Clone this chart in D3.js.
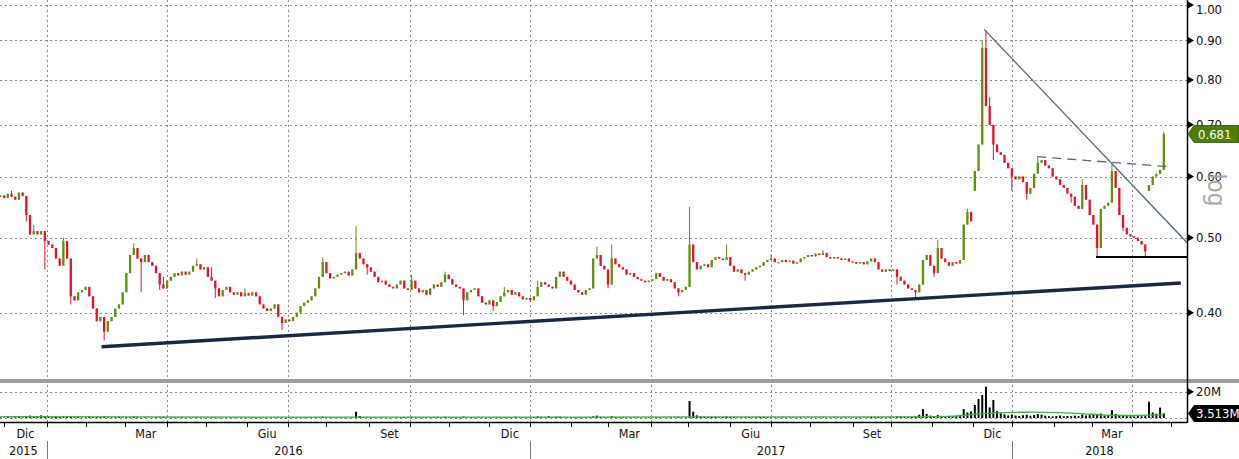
<!DOCTYPE html>
<html><head><meta charset="utf-8">
<script src="https://cdn.jsdelivr.net/npm/d3@7"></script>
<style>
body{margin:0;background:#fff}
svg{display:block}
text{font-family:"DejaVu Sans Condensed","DejaVu Sans","Liberation Sans",sans-serif}
</style>
</head><body>
<svg id="c" width="1239" height="459"></svg>
<script>
// ---------------- DATA ----------------
const calendarOrigin = "2015-11-23";   // weekday index 0
const firstCandleDate = "2015-11-27";
const candleStep = 2;                  // weekdays per candle
const firstOpen = 0.565;
const close = [
0.567,0.563,0.570,0.565,0.560,0.572,0.566,0.535,0.505,0.510,
0.505,0.510,0.495,0.490,0.485,0.470,0.460,0.495,0.470,0.420,
0.415,0.425,0.428,0.432,0.420,0.405,0.390,0.395,0.378,0.390,
0.395,0.405,0.410,0.425,0.450,0.475,0.485,0.470,0.465,0.475,
0.465,0.460,0.450,0.435,0.430,0.440,0.445,0.450,0.447,0.452,
0.448,0.452,0.460,0.462,0.455,0.458,0.445,0.440,0.430,0.420,
0.428,0.432,0.425,0.422,0.425,0.420,0.424,0.421,0.425,0.420,
0.410,0.405,0.402,0.405,0.410,0.395,0.388,0.392,0.390,0.395,
0.400,0.408,0.412,0.415,0.420,0.430,0.445,0.465,0.450,0.443,
0.445,0.448,0.450,0.452,0.447,0.455,0.478,0.470,0.462,0.458,
0.452,0.445,0.438,0.440,0.435,0.432,0.430,0.435,0.440,0.430,
0.428,0.440,0.430,0.425,0.428,0.422,0.430,0.435,0.432,0.438,
0.448,0.442,0.435,0.432,0.430,0.415,0.425,0.428,0.430,0.420,
0.412,0.410,0.415,0.408,0.413,0.420,0.425,0.428,0.422,0.425,
0.420,0.416,0.418,0.415,0.420,0.432,0.438,0.435,0.432,0.430,
0.445,0.452,0.445,0.440,0.435,0.428,0.425,0.422,0.428,0.430,
0.470,0.475,0.460,0.455,0.435,0.470,0.462,0.458,0.455,0.448,
0.450,0.445,0.442,0.440,0.438,0.440,0.442,0.450,0.445,0.440,
0.442,0.438,0.430,0.425,0.428,0.432,0.490,0.465,0.455,0.460,
0.462,0.458,0.468,0.472,0.470,0.468,0.472,0.460,0.452,0.455,
0.450,0.448,0.452,0.455,0.458,0.460,0.465,0.468,0.470,0.465,
0.465,0.468,0.465,0.467,0.463,0.465,0.470,0.472,0.475,0.473,
0.477,0.475,0.478,0.472,0.470,0.472,0.470,0.468,0.470,0.466,
0.465,0.463,0.465,0.462,0.466,0.470,0.465,0.455,0.452,0.455,
0.453,0.455,0.445,0.440,0.435,0.430,0.428,0.425,0.435,0.468,
0.475,0.460,0.450,0.485,0.470,0.465,0.460,0.465,0.463,0.468,
0.520,0.540,0.525,0.610,0.660,0.880,0.740,0.700,0.660,0.645,
0.640,0.625,0.615,0.600,0.595,0.600,0.590,0.570,0.580,0.605,
0.625,0.630,0.620,0.615,0.600,0.595,0.585,0.580,0.570,0.565,
0.550,0.545,0.585,0.560,0.535,0.520,0.485,0.545,0.550,0.555,
0.610,0.580,0.535,0.515,0.505,0.502,0.500,0.495,0.490,0.480,
0.585,0.600,0.605,0.612,0.681
];
// explicit opens where the price gapped: [candle, open]
const gapOpens = [[263,0.575],[310,0.575]];
// [candle, high] and [candle, low] for wicks beyond the body
const highs = [[3,0.575],[9,0.52],[17,0.5],[36,0.492],[44,0.445],[53,0.47],[57,0.458],[66,0.43],[87,0.472],[96,0.518],
  [111,0.448],[120,0.452],[136,0.432],[145,0.44],[161,0.487],[165,0.49],[186,0.548],[196,0.49],[208,0.476],[222,0.482],
  [253,0.497],[261,0.545],[265,0.90],[266,0.928],[267,0.76],[280,0.638],[292,0.595],[300,0.624],[314,0.685]];
const lows = [[7,0.525],[12,0.455],[19,0.41],[28,0.368],[38,0.425],[43,0.428],[58,0.418],[76,0.38],[99,0.448],[125,0.397],
  [133,0.402],[164,0.43],[183,0.42],[201,0.44],[242,0.435],[247,0.419],[252,0.445],[268,0.63],[273,0.575],[277,0.56],
  [289,0.555],[296,0.472],[303,0.51],[309,0.472]];
const volume = [
0.6,0.4,0.9,0.3,0.5,1.2,0.4,1.5,1.8,0.9, 1.2,2.0,1.4,0.8,0.5,1.6,0.7,0.9,1.1,1.3,
0.6,0.9,0.4,0.5,1.4,0.6,0.8,0.7,1.3,0.5, 0.4,0.6,0.9,0.5,0.7,0.4,1.0,0.6,0.3,0.5,
0.4,0.3,0.6,0.5,0.8,0.4,0.3,0.5,0.4,0.6, 0.3,0.4,0.5,0.7,0.4,0.3,0.5,0.6,0.4,0.3,
0.3,0.5,0.4,0.3,0.6,0.4,0.3,0.4,0.5,0.3, 0.4,0.6,0.3,0.5,0.4,0.7,0.5,0.3,0.4,0.6,
0.4,0.5,0.3,0.6,0.4,0.8,0.7,1.0,0.5,0.4, 0.3,0.4,0.5,0.3,0.4,0.6,4.8,1.6,0.8,0.5,
0.4,0.5,0.3,0.4,0.6,0.3,0.5,0.4,0.3,0.5, 0.6,0.9,0.4,0.5,0.3,0.6,0.4,0.5,0.8,0.4,
0.9,0.5,0.4,0.6,0.3,1.1,0.5,0.4,0.3,0.6, 0.4,0.3,0.5,0.4,0.6,0.5,0.7,0.4,0.3,1.0,
0.5,0.6,0.3,0.4,0.8,1.2,0.9,0.5,1.4,0.6, 0.9,1.1,0.5,0.4,0.6,0.3,0.5,0.4,0.6,0.5,
1.3,1.8,0.9,0.7,0.6,1.4,0.8,0.5,0.7,0.4, 0.5,0.4,0.6,0.3,0.4,0.5,0.3,0.6,0.4,0.5,
0.4,0.6,0.5,0.7,0.4,0.6,12.9,4.8,2.0,1.2, 0.9,0.7,1.0,0.8,0.6,0.7,1.1,0.8,0.6,0.5,
0.6,0.5,0.7,0.4,0.5,0.8,0.6,0.5,0.4,0.5, 0.4,0.5,0.3,0.4,0.5,0.3,0.6,0.4,0.5,0.4,
0.3,0.4,0.5,0.3,0.4,0.6,0.4,0.3,0.5,0.4, 0.4,0.3,0.5,0.4,0.6,1.0,0.7,0.8,0.6,0.5,
0.6,0.5,1.2,1.5,0.9,0.7,0.8,1.0,2.5,6.8, 3.1,1.8,1.5,2.2,1.6,1.3,1.4,1.2,1.6,2.4,
6.8,4.2,5.1,9.9,14.4,17.5,23.8,8.0,13.7,5.2, 3.6,2.8,2.0,2.6,1.9,1.5,2.1,2.4,1.7,2.2,
2.9,2.5,1.8,1.4,1.2,1.5,1.9,1.3,1.6,1.4, 1.8,1.5,2.6,1.9,2.2,2.5,3.0,3.4,2.0,2.4,
6.0,3.1,2.4,1.9,1.6,1.4,1.2,1.5,1.3,1.8, 12.4,4.2,3.3,7.9,3.513
];
// volume moving average, [candle, value in M]
const volumeMA = [[0,1.0],[40,0.9],[80,0.6],[120,0.6],[160,0.7],[185,0.9],[210,0.9],[245,0.9],[255,1.0],
  [260,1.8],[264,3.2],[268,4.0],[276,4.5],[286,4.3],[293,3.2],[298,2.0],[304,1.8],[310,2.2],[314,2.5]];
const priceTicks = [0.40,0.50,0.60,0.70,0.80,0.90,1.00];
const volumeTicks = [20];
const monthNames = ["Gen","Feb","Mar","Apr","Mag","Giu","Lug","Ago","Set","Ott","Nov","Dic"];
const labelledMonths = [11,2,5,8];
const axisStart = "2015-12-01", axisEnd = "2018-05-01";
// drawn lines: [candle, price] pairs
const supportLine = [[27.3,0.3615],[318.6,0.437]];
const downTrend = [[265.5,0.930],[320.3,0.4927]];
const resistance = [[279.9,0.6365],[315.5,0.6178]];
const floorLine = [[295.7,0.472],[320.3,0.472]];

// ---------------- LAYOUT ----------------
const svg = d3.select("#c");
const W = 1239, axisX = 1187;
const parse = d3.utcParse("%Y-%m-%d");
const origin = parse(calendarOrigin);
const wIdx = d => d3.utcDay.range(origin, d).filter(t => t.getUTCDay() % 6 !== 0).length;
const x = d3.scaleLinear().domain([wIdx(parse("2016-01-01")), wIdx(parse("2018-04-02"))]).range([46.7, 1132.3]);
const w0 = wIdx(parse(firstCandleDate));
const xk = k => x(w0 + candleStep * k);
const y = d3.scaleLog().domain([1.0, 0.4]).range([5, 312.7]);
const vy = d3.scaleLinear().domain([0, 20]).range([418, 391.7]);

const GREEN = "#5f8f0f", RED = "#e8112d";
const defs = svg.append("defs");
defs.append("clipPath").attr("id","pc").append("rect").attr("x",0).attr("y",0).attr("width",axisX).attr("height",379);
defs.append("clipPath").attr("id","vc").append("rect").attr("x",0).attr("y",383).attr("width",axisX).attr("height",39);

// horizontal gridlines
svg.append("g").selectAll("line").data(priceTicks).join("line")
  .attr("x1",0).attr("x2",axisX).attr("y1",d=>Math.round(y(d))+0.5).attr("y2",d=>Math.round(y(d))+0.5)
  .attr("stroke","#8a8a8a").attr("stroke-dasharray","2,3");
svg.append("g").selectAll("line").data([0].concat(volumeTicks)).join("line")
  .attr("x1",0).attr("x2",axisX).attr("y1",d=>Math.round(vy(d))+0.5).attr("y2",d=>Math.round(vy(d))+0.5)
  .attr("stroke","#8a8a8a").attr("stroke-dasharray","2,3");

// months
const months = d3.utcMonth.range(parse(axisStart), d3.utcMonth.offset(parse(axisEnd),1));
const mx = m => x(wIdx(m));
const quarters = months.filter(m => m.getUTCMonth() % 3 === 0);
svg.append("g").selectAll("line").data(quarters).join("line")
  .attr("x1",d=>Math.round(mx(d))+0.5).attr("x2",d=>Math.round(mx(d))+0.5).attr("y1",0).attr("y2",430)
  .attr("stroke","#8a8a8a").attr("stroke-dasharray","2,3");

// volume
const vg = svg.append("g").attr("clip-path","url(#vc)");
vg.selectAll("rect").data(volume).join("rect")
  .attr("x",(d,k)=>xk(k)-1).attr("width",2)
  .attr("y",d=>vy(d)).attr("height",d=>Math.max(0.6, vy(0)-vy(d))).attr("fill","#000");
vg.append("path").datum(volumeMA)
  .attr("d", d3.line().x(d=>xk(d[0])).y(d=>vy(d[1])).curve(d3.curveBasis))
  .attr("fill","none").attr("stroke","#3cb43c").attr("stroke-width",1.3);

// candles
const hiMap = new Map(highs), loMap = new Map(lows), gapMap = new Map(gapOpens);
const candles = close.map((c,k)=>{
  const o = gapMap.has(k) ? gapMap.get(k) : (k ? close[k-1] : firstOpen);
  return {k, o, c, h: Math.max(o,c,hiMap.get(k)||0), l: Math.min(o,c,loMap.get(k)||9)};
});
const cg = svg.append("g").attr("clip-path","url(#pc)");
const cs = cg.selectAll("g").data(candles).join("g").attr("fill",d=>d.c>=d.o?GREEN:RED).attr("stroke",d=>d.c>=d.o?GREEN:RED);
cs.append("line").attr("x1",d=>xk(d.k)).attr("x2",d=>xk(d.k)).attr("y1",d=>y(d.h)).attr("y2",d=>y(d.l)).attr("stroke-width",1);
cs.append("rect").attr("stroke","none").attr("x",d=>xk(d.k)-1.15).attr("width",2.3)
  .attr("y",d=>y(Math.max(d.o,d.c))).attr("height",d=>Math.max(1.2, y(Math.min(d.o,d.c))-y(Math.max(d.o,d.c))));

// drawn lines
const ln = d3.line().x(d=>xk(d[0])).y(d=>y(d[1]));
cg.append("path").datum(supportLine).attr("d",ln).attr("stroke","#1b2940").attr("stroke-width",3.4).attr("fill","none");
cg.append("path").datum(downTrend).attr("d",ln).attr("stroke","#4f6b88").attr("stroke-width",1.3).attr("fill","none");
cg.append("path").datum(resistance).attr("d",ln).attr("stroke","#4f6b88").attr("stroke-width",1.3).attr("stroke-dasharray","9,6").attr("fill","none");
cg.append("path").datum(floorLine).attr("d",ln).attr("stroke","#000").attr("stroke-width",2).attr("fill","none");

// separator & axes
svg.append("line").attr("x1",0).attr("x2",W).attr("y1",381).attr("y2",381).attr("stroke","#9c9c9c").attr("stroke-width",4);
svg.append("line").attr("x1",axisX+0.5).attr("x2",axisX+0.5).attr("y1",0).attr("y2",423).attr("stroke","#000").attr("stroke-width",1.5);
svg.append("line").attr("x1",0).attr("x2",axisX).attr("y1",422.5).attr("y2",422.5).attr("stroke","#000").attr("stroke-width",1.5);

// price axis
const pa = svg.append("g");
pa.selectAll("path").data(priceTicks).join("path")
  .attr("d",d=>{const t=y(d);return `M${axisX+1},${t-3.5}L${axisX+7},${t}L${axisX+1},${t+3.5}Z`;}).attr("fill","#000");
pa.selectAll("text").data(priceTicks).join("text")
  .attr("x",axisX+9).attr("y",d=>Math.max(14, y(d)+4.5)).attr("font-size",13).attr("fill","#111").text(d=>d.toFixed(2));
svg.append("text").attr("transform",`translate(1208,190) rotate(90)`).attr("text-anchor","middle")
  .attr("font-size",24).attr("fill","#a8a8a8").text("log");

// last price tag
const lastC = close[close.length-1], ly = y(lastC);
svg.append("path").attr("d",`M${axisX+1},${ly}L${axisX+7},${ly-8.5}L${W},${ly-8.5}L${W},${ly+8.5}L${axisX+7},${ly+8.5}Z`)
  .attr("fill","#4e7d05").attr("stroke","#2f4f00").attr("stroke-width",0.8);
svg.append("text").attr("x",axisX+11).attr("y",ly+5).attr("font-size",13).attr("fill","#fff").text(lastC.toFixed(3));

// volume axis
svg.selectAll(".vt").data(volumeTicks).join("path").attr("class","vt")
  .attr("d",d=>{const t=vy(d);return `M${axisX+1},${t-3.5}L${axisX+7},${t}L${axisX+1},${t+3.5}Z`;}).attr("fill","#000");
svg.selectAll(".vl").data(volumeTicks).join("text").attr("class","vl")
  .attr("x",axisX+9).attr("y",d=>vy(d)+4.5).attr("font-size",13).attr("fill","#111").text(d=>d+"M");
const lastV = volume[volume.length-1], lvy = vy(lastV);
svg.append("path").attr("d",`M${axisX+1},${lvy}L${axisX+7},${lvy-8.5}L${W},${lvy-8.5}L${W},${lvy+8.5}L${axisX+7},${lvy+8.5}Z`).attr("fill","#000");
svg.append("text").attr("x",axisX+9).attr("y",lvy+5).attr("font-size",13).attr("fill","#fff").text(lastV.toFixed(3)+"M");

// time axis
const ta = svg.append("g");
ta.selectAll("line").data(months).join("line")
  .attr("x1",d=>Math.round(mx(d))+0.5).attr("x2",d=>Math.round(mx(d))+0.5).attr("y1",422).attr("y2",427)
  .attr("stroke","#000");
const lm = months.filter(m => labelledMonths.includes(m.getUTCMonth()) && mx(m) < axisX);
ta.selectAll("text.m").data(lm).join("text").attr("class","m")
  .attr("x",d=>(mx(d)+Math.min(axisX,mx(d3.utcMonth.offset(d,1))))/2).attr("y",438)
  .attr("text-anchor","middle").attr("font-size",12.5).attr("fill","#111").text(d=>monthNames[d.getUTCMonth()]);
const yearStarts = d3.utcYear.range(parse("2016-01-01"), parse("2019-01-01"));
const yearBounds = [0].concat(yearStarts.map(mx).filter(v=>v<axisX)).concat([axisX]);
const yearsArr = d3.range(yearBounds.length-1).map(i=>({yr:2015+i, a:yearBounds[i], b:yearBounds[i+1]}));
ta.selectAll("text.y").data(yearsArr).join("text").attr("class","y")
  .attr("x",d=>(d.a+d.b)/2).attr("y",455).attr("text-anchor","middle").attr("font-size",12.5).attr("fill","#111").text(d=>d.yr);
ta.selectAll("line.ys").data(yearBounds.slice(1,-1)).join("line").attr("class","ys")
  .attr("x1",d=>Math.round(d)+0.5).attr("x2",d=>Math.round(d)+0.5).attr("y1",441).attr("y2",459).attr("stroke","#777");
</script>
</body></html>
